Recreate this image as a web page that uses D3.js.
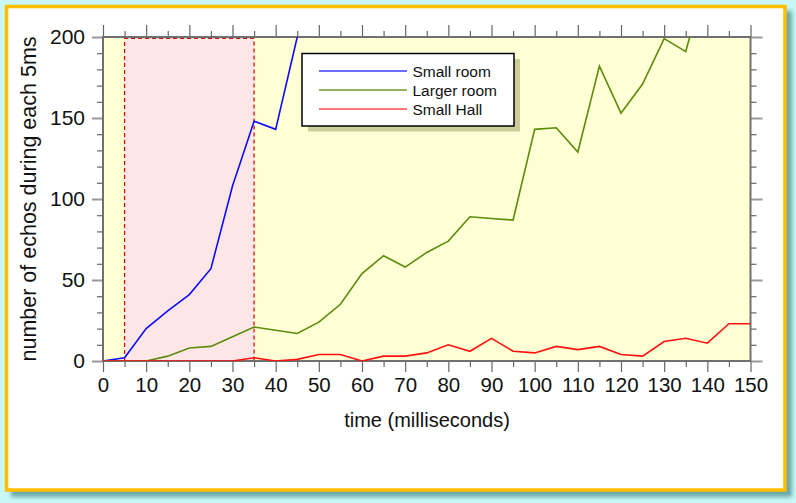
<!DOCTYPE html>
<html><head><meta charset="utf-8">
<script src="https://cdn.jsdelivr.net/npm/d3@7"></script>
<style>body{margin:0;background:#c9f7f7;}svg{display:block;font-family:"Liberation Sans",Arial,Helvetica,sans-serif;}</style>
</head><body><svg id="c" width="796" height="503"></svg>
<script>
const times = [0,5,10,15,20,25,30,35,40,45,50,55,60,65,70,75,80,85,90,95,100,105,110,115,120,125,130,135,140,145,150];
const smallRoom = [0,2,20,31,41,57,108,148,143,200];
const largerRoom = [0,0,0,3,8,9,15,21,19,17,24,35,54,65,58,67,74,89,88,87,143,144,129,182,153,171,199,191,240];
const smallHall = [0,0,0,0,0,0,0,2,0,1,4,4,0,3,3,5,10,6,14,6,5,9,7,9,4,3,12,14,11,23,23];
const seriesNames = ["Small room","Larger room","Small Hall"];
const seriesColors = ["#0a0aff","#5a8c0a","#ff1010"];
const legendColors = ["#3a3aff","#6f9a30","#ff4a4a"];
const xTicks = [0,10,20,30,40,50,60,70,80,90,100,110,120,130,140,150];
const yTicks = [0,50,100,150,200];
const shadeRange = [5,35];

const svg = d3.select("#c");
const defs = svg.append("defs");
const f = defs.append("filter").attr("id","blur").attr("x","-5%").attr("y","-5%").attr("width","110%").attr("height","110%");
f.append("feGaussianBlur").attr("stdDeviation",2);
defs.append("clipPath").attr("id","clip").append("rect").attr("x",103).attr("y",37).attr("width",647.5).attr("height",324);

// frame
svg.append("rect").attr("x",11).attr("y",11).attr("width",781).attr("height",486).attr("fill","#6aa8a8").attr("filter","url(#blur)");
svg.append("rect").attr("x",6.5).attr("y",6.5).attr("width",778.5).attr("height",483.5).attr("fill","#fff").attr("stroke","#ffbf00").attr("stroke-width",3.5);

const x = d3.scaleLinear().domain([0,150]).range([103,750.5]);
const y = d3.scaleLinear().domain([0,200]).range([361,37]);

// plot background
svg.append("rect").attr("x",x(0)).attr("y",y(200)).attr("width",x(150)-x(0)).attr("height",y(0)-y(200)).attr("fill","#ffffd5");
svg.append("rect").attr("x",x(shadeRange[0])).attr("y",y(200)).attr("width",x(shadeRange[1])-x(shadeRange[0])).attr("height",y(0)-y(200)).attr("fill","#fde6e6");
svg.append("path").attr("d",`M${x(shadeRange[0])},${y(0)}V${y(200)+1.5}H${x(shadeRange[1])}V${y(0)}`)
  .attr("fill","none").attr("stroke","#d40000").attr("stroke-width",1.2).attr("stroke-dasharray","4,3");

// axes
const tickColor = "#666";
function ax(gen, tx, ty){
  const g = svg.append("g").attr("transform",`translate(${tx},${ty})`).call(gen);
  g.select(".domain").remove();
  g.selectAll("line").attr("stroke",tickColor).attr("stroke-width",1.2);
  return g;
}
const minorX = d3.range(5,150,10);
const minorY = d3.range(0,201,10).filter(v=>v%50!==0);
const bx = ax(d3.axisBottom(x).tickValues(xTicks).tickSize(11).tickPadding(5).tickFormat(d3.format("d")), 0, 361);
bx.selectAll("text").attr("font-size",20.5).attr("fill","#111").attr("font-family","Liberation Sans, Arial, sans-serif");
ax(d3.axisBottom(x).tickValues(minorX).tickSize(6).tickFormat(""),0,361);
ax(d3.axisTop(x).tickValues(xTicks).tickSize(12).tickFormat(""),0,37);
ax(d3.axisTop(x).tickValues(minorX).tickSize(6).tickFormat(""),0,37);
const ly = ax(d3.axisLeft(y).tickValues(yTicks).tickSize(11).tickPadding(7).tickFormat(d3.format("d")),103,0);
ly.selectAll("text").attr("font-size",21).attr("fill","#111").attr("font-family","Liberation Sans, Arial, sans-serif");
ly.selectAll("line").attr("stroke","#999").attr("stroke-width",2);
ax(d3.axisLeft(y).tickValues(minorY).tickSize(6).tickFormat(""),103,0);
ax(d3.axisRight(y).tickValues(yTicks).tickSize(12).tickFormat(""),750.5,0).selectAll("line").attr("stroke","#999").attr("stroke-width",2);
ax(d3.axisRight(y).tickValues(minorY).tickSize(6).tickFormat(""),750.5,0);

// plot border
svg.append("rect").attr("x",x(0)).attr("y",y(200)).attr("width",x(150)-x(0)).attr("height",y(0)-y(200))
  .attr("fill","none").attr("stroke","#707070").attr("stroke-width",2);

// lines
const line = d3.line().x((d,i)=>x(times[i])).y(d=>y(d));
const gl = svg.append("g").attr("clip-path","url(#clip)");
[smallRoom,largerRoom,smallHall].forEach((s,i)=>{
  gl.append("path").datum(s).attr("d",line).attr("fill","none").attr("stroke",seriesColors[i]).attr("stroke-width",1.6).attr("stroke-linejoin","miter");
});

// legend
const lg = svg.append("g");
lg.append("rect").attr("x",308).attr("y",59).attr("width",212).attr("height",72.5).attr("fill","#cccc99");
lg.append("rect").attr("x",302).attr("y",53.5).attr("width",212).attr("height",72.5).attr("fill","#fff").attr("stroke","#000").attr("stroke-width",1.5);
seriesNames.forEach((n,i)=>{
  const yy = 71 + i*19;
  lg.append("line").attr("x1",319).attr("x2",407).attr("y1",yy).attr("y2",yy).attr("stroke",legendColors[i]).attr("stroke-width",1.6);
  lg.append("text").attr("x",412.5).attr("y",yy+5.5).attr("font-size",15.5).attr("fill","#111").text(n);
});

// axis titles
svg.append("text").attr("x",427).attr("y",427).attr("text-anchor","middle").attr("font-size",20).attr("fill","#111").text("time (milliseconds)");
svg.append("text").attr("transform","translate(36,199) rotate(-90)").attr("text-anchor","middle").attr("font-size",21.5).attr("fill","#111").text("number of echos during each 5ms");
</script></body></html>
